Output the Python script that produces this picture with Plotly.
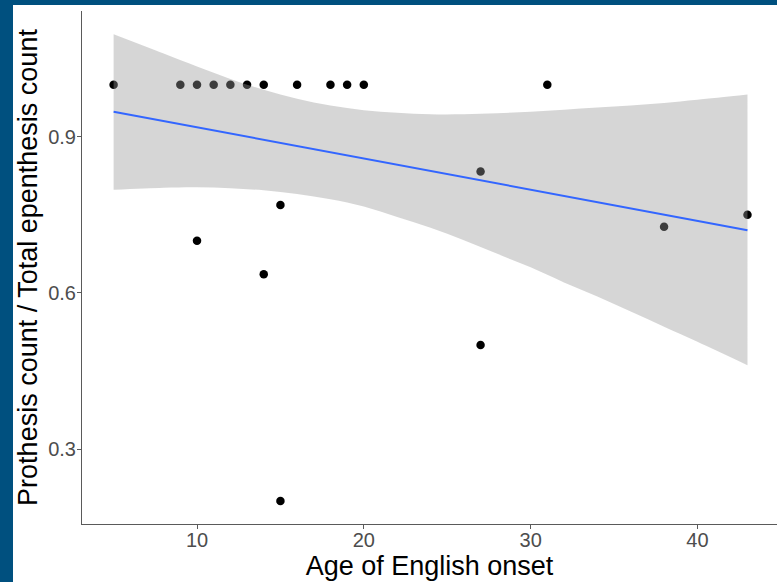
import plotly.graph_objects as go

# Observed points
age_onset = [5, 9, 10, 11, 12, 13, 14, 16, 18, 19, 20, 31, 27, 43, 38, 10, 15, 14, 27, 15]
prothesis_ratio = [1, 1, 1, 1, 1, 1, 1, 1, 1, 1, 1, 1, 0.833, 0.75, 0.727, 0.7, 0.769, 0.636, 0.5, 0.2]

# Linear smoother
fit_x = [5, 43]
fit_y = [0.948, 0.7205]

# Confidence band
band_x = [5, 8, 10, 12, 14, 16, 18, 20, 22, 24, 26, 28, 30, 32, 34, 36, 38, 40, 43]
band_lo = [0.798, 0.802, 0.803, 0.801, 0.797, 0.790, 0.780, 0.766, 0.746, 0.725, 0.701, 0.675, 0.649, 0.620, 0.593, 0.564, 0.535, 0.506, 0.461]
band_hi = [1.097, 1.060, 1.035, 1.011, 0.990, 0.973, 0.960, 0.951, 0.946, 0.943, 0.943, 0.945, 0.948, 0.952, 0.956, 0.960, 0.965, 0.971, 0.981]

x_ticks = [10, 20, 30, 40]
y_ticks = [0.3, 0.6, 0.9]

FONT = "Liberation Sans, Arial, sans-serif"

fig = go.Figure()
fig.add_trace(go.Scatter(x=age_onset, y=prothesis_ratio, mode="markers",
                         marker=dict(color="black", size=8.5), showlegend=False,
                         hoverinfo="x+y"))
fig.add_trace(go.Scatter(x=band_x, y=band_lo, mode="lines", line=dict(width=0, shape="spline"),
                         showlegend=False, hoverinfo="skip"))
fig.add_trace(go.Scatter(x=band_x, y=band_hi, mode="lines", line=dict(width=0, shape="spline"),
                         fill="tonexty", fillcolor="rgba(153,153,153,0.4)",
                         showlegend=False, hoverinfo="skip"))
fig.add_trace(go.Scatter(x=fit_x, y=fit_y, mode="lines", line=dict(color="#3366FF", width=2),
                         showlegend=False))

W, H = 777, 582
L, R, T, B = 82, 0, 11, 58
pw, ph = W - L - R, H - T - B

fig.add_shape(type="rect", xref="paper", yref="paper",
              x0=(13 - L) / pw, x1=1.2, y0=-(B + 20) / ph, y1=1 + (T - 5) / ph,
              fillcolor="white", line=dict(width=0), layer="below")

axis_common = dict(showgrid=False, zeroline=False, showline=True, linecolor="#5a5a5a", linewidth=1,
                   ticks="outside", ticklen=4, tickwidth=1, tickcolor="#5a5a5a",
                   tickfont=dict(family=FONT, size=20, color="#4d4d4d"))

fig.update_layout(
    width=W, height=H,
    margin=dict(l=L, r=R, t=T, b=B, pad=0),
    paper_bgcolor="#00507F",
    plot_bgcolor="white",
    xaxis=dict(range=[3.105, 44.77], tickvals=x_ticks, ticktext=[str(v) for v in x_ticks],
               ticklabelstandoff=-6,
               title=dict(text="Age of English onset", standoff=0,
                          font=dict(family=FONT, size=27, color="black")),
               **axis_common),
    yaxis=dict(range=[0.156, 1.1415], tickvals=y_ticks, ticktext=[f"{v:.1f}" for v in y_ticks],
               ticklabelstandoff=-3,
               title=dict(text="Prothesis count / Total epenthesis count", standoff=2,
                          font=dict(family=FONT, size=27, color="black")),
               **axis_common),
)

fig.write_html("out.html", config={"displayModeBar": False},
               post_script="document.body.style.margin='0';document.body.style.overflow='hidden';")
